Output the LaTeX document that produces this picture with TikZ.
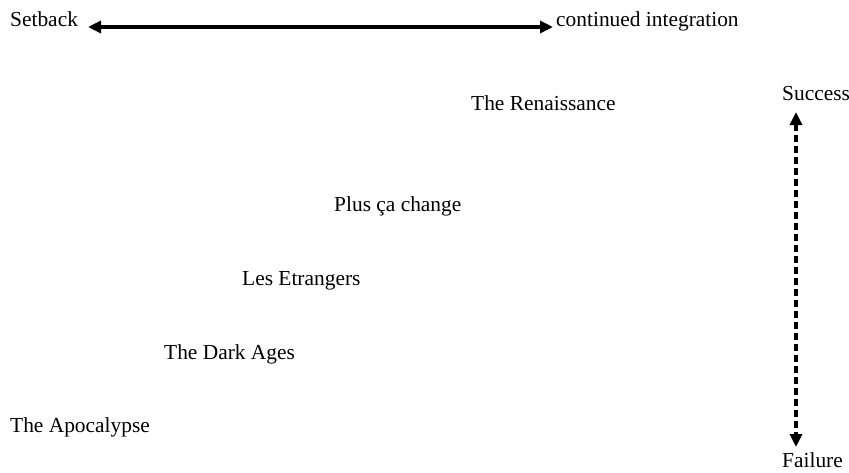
\documentclass[tikz,border=0pt]{standalone}
\usepackage{fontspec}
\setmainfont{Liberation Serif}
\usetikzlibrary{arrows.meta}
\tikzset{
  lbl/.style={inner sep=0pt, anchor=base west, font=\fontsize{21.4}{25}\selectfont},
  scale arrow/.style={line width=3.2pt, {Triangle[length=13pt,width=12pt]}-{Triangle[length=13pt,width=12pt]}},
  outcome arrow/.style={scale arrow, dash pattern=on 7pt off 4pt}
}
\begin{document}
\begin{tikzpicture}[x=1pt,y=-1pt]
  \useasboundingbox (0,0) rectangle (849,472);

  % horizontal scale
  \node[lbl] (setback) at (10,26) {Setback};
  \node[lbl] (cont) at (556,26) {continued integration};
  \coordinate (hl) at (88,27);
  \coordinate (hr) at (553,27);
  \draw[scale arrow] (hl) -- (hr);

  % scenarios
  \node[lbl] (ren) at (471,110) {The Renaissance};
  \node[lbl] (plus) at (334,211) {Plus ça change};
  \node[lbl] (etr) at (242,285) {Les Etrangers};
  \node[lbl] (dark) at (164,359) {The Dark Ages};
  \node[lbl] (apoc) at (10,432) {The Apocalypse};

  % vertical scale
  \node[lbl] (succ) at (782,100) {Success};
  \node[lbl] (fail) at (782,467) {Failure};
  \coordinate (vt) at (796,112);
  \coordinate (vb) at (796,447);
  \draw[outcome arrow] (vt) -- (vb);
\end{tikzpicture}
\end{document}
